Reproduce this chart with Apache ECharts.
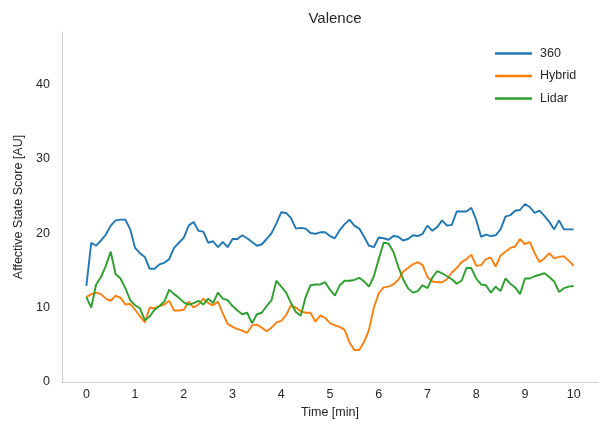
<!DOCTYPE html>
<html>
<head>
<meta charset="utf-8">
<script src="https://cdn.jsdelivr.net/npm/echarts@6/dist/echarts.min.js"></script>
<style>
  html, body { margin: 0; padding: 0; background: #fff; }
  #chart { width: 602px; height: 436px; }
</style>
</head>
<body>
<div id="chart"></div>
<script>
// time in minutes, one sample every 0.1 min
const TIME = Array.from({ length: 101 }, (_, i) => +(i / 10).toFixed(1));
const X_TICKS = [0, 1, 2, 3, 4, 5, 6, 7, 8, 9, 10];
const Y_TICKS = [0, 10, 20, 30, 40];

const S360 = [
  12.9, 18.7, 18.3, 19.0, 19.8, 21.0, 21.7, 21.8, 21.8, 20.5,
  18.0, 17.3, 16.8, 15.2, 15.2, 15.8, 16.0, 16.5, 18.0, 18.7,
  19.4, 21.0, 21.5, 20.3, 20.2, 18.7, 18.9, 18.1, 18.8, 18.1,
  19.2, 19.2, 19.7, 19.3, 18.8, 18.3, 18.5, 19.2, 20.0, 21.3,
  22.8, 22.7, 22.0, 20.6, 20.7, 20.6, 20.0, 19.9, 20.1, 20.1,
  19.6, 19.3, 20.4, 21.2, 21.8, 21.0, 20.6, 19.5, 18.3, 18.1,
  19.4, 19.3, 19.1, 19.6, 19.5, 19.0, 19.2, 19.7, 19.6, 19.9,
  21.0, 20.3, 20.8, 21.7, 21.0, 21.1, 22.9, 22.9, 22.9, 23.4,
  21.8, 19.5, 19.8, 19.6, 19.7, 20.5, 22.2, 22.4, 23.0, 23.1,
  23.9, 23.5, 22.7, 23.0, 22.3, 21.5, 20.5, 21.7, 20.5, 20.5,
  20.5
];
const HYBRID = [
  11.4, 11.8, 12.0, 11.8, 11.2, 10.9, 11.6, 11.3, 10.4, 10.5,
  9.7, 8.8, 8.0, 10.0, 9.9, 10.2, 10.4, 10.9, 9.6, 9.6,
  9.7, 10.8, 10.0, 10.4, 11.2, 10.6, 10.3, 10.8, 9.2, 7.8,
  7.4, 7.1, 6.9, 6.6, 7.6, 7.7, 7.3, 6.8, 7.3, 8.0,
  8.2, 9.0, 10.3, 10.0, 9.5, 9.3, 9.3, 8.1, 8.9, 8.6,
  7.9, 7.6, 7.4, 7.0, 5.3, 4.3, 4.3, 5.4, 7.0, 10.0,
  11.9, 12.7, 12.8, 13.1, 13.7, 14.8, 15.3, 15.8, 16.1, 15.7,
  14.1, 13.5, 13.4, 13.4, 13.8, 14.7, 15.3, 16.1, 16.5, 17.1,
  15.6, 15.7, 16.5, 16.7, 15.5, 17.0, 17.5, 18.0, 18.2, 19.2,
  18.5, 18.8, 17.3, 16.1, 16.6, 17.3, 16.6, 16.8, 16.9, 16.3,
  15.6
];
const LIDAR = [
  11.4, 10.0, 13.1, 14.1, 15.6, 17.5, 14.5, 13.9, 12.6, 11.0,
  10.3, 9.9, 8.3, 8.8, 9.7, 10.2, 10.8, 12.4, 11.8, 11.3,
  10.7, 10.4, 10.6, 10.9, 10.4, 11.2, 10.6, 12.0, 11.2, 11.0,
  10.2, 9.6, 9.1, 9.3, 7.9, 9.1, 9.3, 10.2, 11.0, 13.6,
  12.8, 12.0, 10.6, 9.4, 8.9, 11.4, 13.0, 13.1, 13.1, 13.4,
  12.4, 11.6, 13.0, 13.6, 13.6, 13.7, 14.0, 13.5, 12.8, 14.2,
  16.5, 18.7, 18.6, 17.5, 15.5, 13.8, 12.6, 12.0, 12.2, 13.0,
  12.6, 14.0, 14.9, 14.6, 14.2, 13.8, 13.2, 13.6, 15.3, 15.3,
  13.9, 13.1, 13.0, 12.0, 12.8, 12.2, 13.9, 13.2, 12.7, 11.8,
  13.9, 13.9, 14.2, 14.4, 14.6, 14.1, 13.5, 12.1, 12.6, 12.8,
  12.9
];

const FONT = "'Liberation Sans', Arial, sans-serif";
const pair = (ys) => TIME.map((t, i) => [t, ys[i]]);

function lineSeries(name, ys, color) {
  return {
    name, type: "line", data: pair(ys), symbol: "none",
    lineStyle: { color, width: 1.9 }, itemStyle: { color }
  };
}

const chart = echarts.init(document.getElementById("chart"), null, { renderer: "canvas" });
chart.setOption({
  animation: false,
  backgroundColor: "#fff",
  title: {
    text: "Valence", left: 330, top: 6, textAlign: "center",
    textStyle: { fontFamily: FONT, fontSize: 15, fontWeight: "normal", color: "#262626" }
  },
  legend: {
    orient: "vertical", left: 490, top: 42, icon: "rect", itemWidth: 37, itemHeight: 2.5, itemGap: 9.5,
    textStyle: { fontFamily: FONT, fontSize: 12.5, color: "#262626", padding: [0, 0, 0, 3] },
    data: ["360", "Hybrid", "Lidar"]
  },
  grid: { left: 62, right: 4, top: 32, bottom: 54, containLabel: false },
  xAxis: {
    type: "value", min: -0.5, max: 10.5,
    name: "Time [min]", nameLocation: "middle", nameGap: 24,
    nameTextStyle: { fontFamily: FONT, fontSize: 12.5, color: "#262626" },
    axisLine: { onZero: false, lineStyle: { color: "#cccccc", width: 1 } },
    axisTick: { show: false },
    splitLine: { show: false },
    axisLabel: { customValues: X_TICKS, margin: 6, fontFamily: FONT, fontSize: 12.5, color: "#262626" }
  },
  yAxis: {
    type: "value", min: 0, max: 47,
    name: "Affective State Score [AU]", nameLocation: "middle", nameGap: 36,
    nameTextStyle: { fontFamily: FONT, fontSize: 12.5, color: "#262626" },
    axisLine: { show: true, onZero: false, lineStyle: { color: "#cccccc", width: 1 } },
    axisTick: { show: false },
    splitLine: { show: false },
    axisLabel: { customValues: Y_TICKS, margin: 12, fontFamily: FONT, fontSize: 12.5, color: "#262626" }
  },
  series: [
    lineSeries("360", S360, "#1f77b4"),
    lineSeries("Hybrid", HYBRID, "#ff7f0e"),
    lineSeries("Lidar", LIDAR, "#2ca02c")
  ]
});
</script>
</body>
</html>
